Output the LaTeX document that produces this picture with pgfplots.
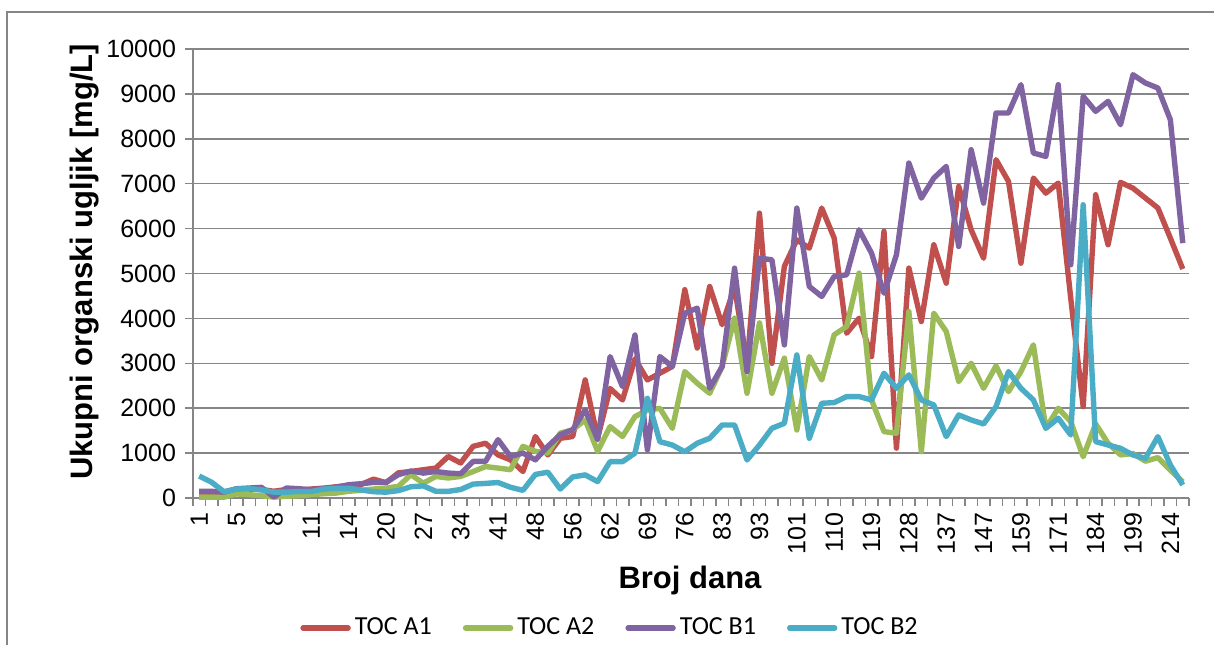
\documentclass[border=0pt]{standalone}
\usepackage{fontspec}
\setmainfont{Liberation Sans}
\newfontfamily\legfont{Carlito}
\usepackage{pgfplots}
\usepackage{pgfplotstable}
\pgfplotsset{compat=1.18}
\definecolor{cA1}{HTML}{C0504D}
\definecolor{cA2}{HTML}{9BBB59}
\definecolor{cB1}{HTML}{8064A2}
\definecolor{cB2}{HTML}{4BACC6}
\definecolor{gridc}{HTML}{868686}

\pgfplotstableread{
i A1 A2 B1 B2
0 90 20 148 490
1 90 20 148 350
2 110 20 133 140
3 200 90 207 200
4 200 75 222 210
5 190 50 237 180
6 150 20 22 130
7 190 40 222 130
8 170 50 207 145
9 200 75 185 145
10 220 95 207 200
11 250 110 237 215
12 280 150 296 215
13 300 170 318 180
14 420 200 348 140
15 340 220 350 130
16 560 260 520 165
17 590 520 600 250
18 630 330 555 270
19 667 480 590 150
20 925 445 555 148
21 780 480 540 190
22 1150 590 815 310
23 1220 700 815 325
24 960 667 1300 345
25 850 630 925 240
26 590 1150 1000 170
27 1370 1040 850 525
28 960 1000 1150 575
29 1330 1445 1410 200
30 1370 1520 1520 470
31 2630 1740 1965 515
32 1330 1040 1300 365
33 2440 1590 3150 810
34 2185 1370 2480 810
35 3100 1813 3630 1000
36 2630 1960 1070 2220
37 2780 1997 3150 1255
38 2930 1552 2927 1180
39 4640 2816 4116 1030
40 3340 2556 4228 1220
41 4710 2333 2444 1330
42 3860 2927 2927 1627
43 4700 4005 5119 1627
44 2950 2333 2816 847
45 6345 3900 5342 1180
46 3000 2333 5305 1553
47 5160 3115 3410 1664
48 5750 1515 6457 3187
49 5565 3150 4711 1330
50 6457 2630 4488 2110
51 5790 3635 4934 2125
52 3670 3820 4971 2259
53 4005 5008 5974 2259
54 3150 2184 5454 2184
55 5940 1479 4562 2779
56 1110 1441 5416 2444
57 5120 4153 7460 2742
58 3930 1033 6680 2184
59 5640 4116 7125 2073
60 4785 3708 7385 1367
61 6940 2593 5602 1850
62 5975 3002 7757 1739
63 5340 2444 6568 1649
64 7535 2942 8574 2036
65 7050 2370 8574 2816
66 5230 2816 9206 2444
67 7125 3410 7683 2184
68 6790 1553 7608 1553
69 7015 1999 9206 1776
70 4450 1700 5194 1404
71 2035 920 8946 6531
72 6755 1650 8611 1256
73 5640 1220 8834 1181
74 7030 960 8314 1107
75 6900 990 9428 958
76 6680 820 9243 884
77 6460 900 9131 1367
78 5790 620 8426 736
79 5100 360 5676 290
}\datatable

\begin{document}
\begin{tikzpicture}
\useasboundingbox (0,0) rectangle (607pt,322pt);
\draw[gridc, line width=0.75pt] (3.5pt,-1pt) -- (3.5pt,316pt) -- (608pt,316pt);
\begin{axis}[
  at={(96.5pt,73pt)}, anchor=south west,
  scale only axis, width=498pt, height=224.5pt,
  xmin=-0.5, xmax=79.5, ymin=0, ymax=10000,
  scaled y ticks=false,
  axis x line*=bottom, axis y line*=left,
  axis line style={gridc, line width=0.75pt, -},
  ytick={0,1000,...,10000},
  yticklabels={0,1000,2000,3000,4000,5000,6000,7000,8000,9000,10000},
  ymajorgrids, grid style={gridc, line width=0.75pt},
  xtick={-0.5,0.5,...,79.5}, xticklabels={},
  extra x ticks={0,3,...,78},
  extra x tick labels={1,5,8,11,14,20,27,34,41,48,56,62,69,76,83,93,101,110,119,128,137,147,159,171,184,199,214},
  extra x tick style={major tick length=0pt, xticklabel style={rotate=90, anchor=east}, grid=none},
  tick align=outside, major tick length=4pt,
  tick style={gridc, line width=0.75pt},
  tick label style={font=\fontsize{12.5}{13}\selectfont, text=black},
  yticklabel style={xshift=-1pt},
  xticklabel style={yshift=-4pt},
  every axis y label/.style={at={(axis description cs:-0.1084,0.526)}, rotate=90, anchor=center},
  every axis x label/.style={at={(axis description cs:0.499,-0.1826)}, anchor=center},
  ylabel={Ukupni organski ugljik [mg/L]},
  xlabel={Broj dana},
  label style={font=\bfseries\fontsize{15.5}{17}\selectfont},
  legend columns=4,
  legend style={at={(axis description cs:0.4197,-0.2895)}, anchor=center, draw=none, fill=none,
    font=\legfont\fontsize{13}{15}\selectfont,
    /tikz/every even column/.append style={column sep=13.5pt}},
  legend image code/.code={\draw[#1, line cap=round] (0pt,0pt) -- (22.5pt,0pt);},
  every axis plot/.append style={line width=2.7pt, line join=round, no markers},
  clip=false,
]
\addplot[cA1] table[x=i, y=A1] {\datatable};
\addlegendentry{TOC A1}
\addplot[cA2] table[x=i, y=A2] {\datatable};
\addlegendentry{TOC A2}
\addplot[cB1] table[x=i, y=B1] {\datatable};
\addlegendentry{TOC B1}
\addplot[cB2] table[x=i, y=B2] {\datatable};
\addlegendentry{TOC B2}
\end{axis}
\end{tikzpicture}
\end{document}
